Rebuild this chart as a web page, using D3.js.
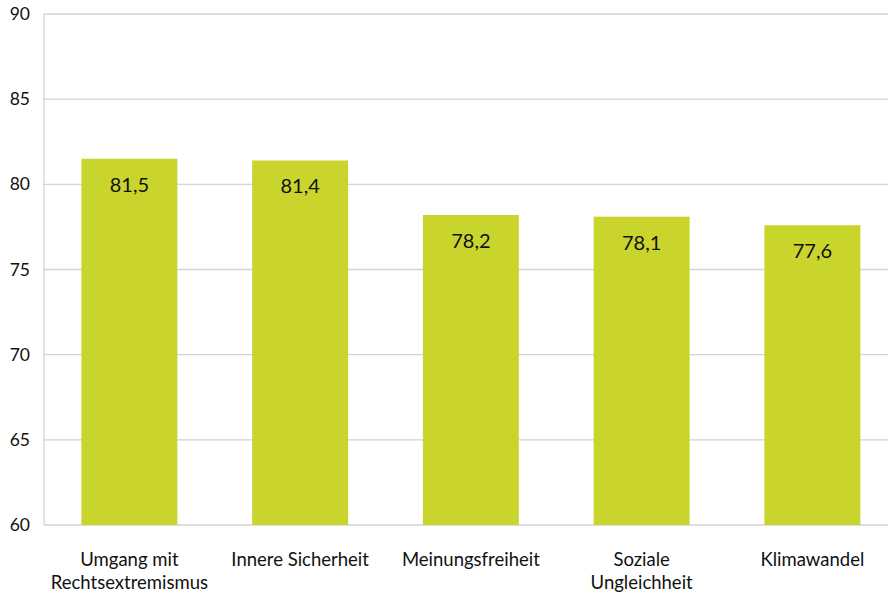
<!DOCTYPE html>
<html><head><meta charset="utf-8">
<script src="https://cdn.jsdelivr.net/npm/d3@7"></script>
<style>body{margin:0;background:#fff;}svg{display:block;font-family:Lato, "Noto Sans", sans-serif;}</style>
</head><body>
<svg id="c" width="888" height="595"></svg>
<script>
const categories = [["Umgang mit","Rechtsextremismus"],["Innere Sicherheit"],["Meinungsfreiheit"],["Soziale","Ungleichheit"],["Klimawandel"]];
const values = [81.5, 81.4, 78.2, 78.1, 77.6];
const valueLabels = ["81,5","81,4","78,2","78,1","77,6"];
const yTicks = [60,65,70,75,80,85,90];

(function(){
const svg = d3.select("#c");
const mLeft = 44, mTop = 14, mBottom = 525, gridRight = 888;
const x = d3.scaleBand().domain(d3.range(values.length)).range([mLeft, 897.75]).paddingInner(0.438).paddingOuter(0.219);
const y = d3.scaleLinear().domain([60,90]).range([mBottom, mTop]);

svg.append("g").selectAll("line").data(yTicks).join("line")
  .attr("x1", mLeft).attr("x2", gridRight)
  .attr("y1", d=>y(d)).attr("y2", d=>y(d))
  .attr("stroke", "#d3d3d3").attr("stroke-width", 1.3);
svg.append("line").attr("x1", mLeft).attr("x2", mLeft).attr("y1", mTop).attr("y2", mBottom)
  .attr("stroke", "#d3d3d3").attr("stroke-width", 1.3);

svg.append("g").selectAll("text").data(yTicks).join("text")
  .attr("x", 30).attr("y", d=>y(d)).attr("dy", "0.35em")
  .attr("text-anchor", "end").attr("font-size", 17.5).attr("fill", "#111")
  .text(d=>d);

svg.append("g").selectAll("rect").data(values).join("rect")
  .attr("x", (d,i)=>x(i)).attr("width", x.bandwidth())
  .attr("y", d=>y(d)).attr("height", d=>mBottom - y(d))
  .attr("fill", "#c9d52c");

svg.append("g").selectAll("text").data(values).join("text")
  .attr("x", (d,i)=>x(i)+x.bandwidth()/2).attr("y", d=>y(d)+33)
  .attr("text-anchor", "middle").attr("font-size", 20).attr("fill", "#111")
  .text((d,i)=>valueLabels[i]);

const cg = svg.append("g").selectAll("text").data(categories).join("text")
  .attr("text-anchor", "middle").attr("font-size", 18.5).attr("fill", "#111")
  .attr("transform", (d,i)=>`translate(${x(i)+x.bandwidth()/2},566)`);
cg.selectAll("tspan").data(d=>d).join("tspan")
  .attr("x", 0).attr("y", (d,j)=>j*23).text(d=>d);
})();
</script>
</body></html>
